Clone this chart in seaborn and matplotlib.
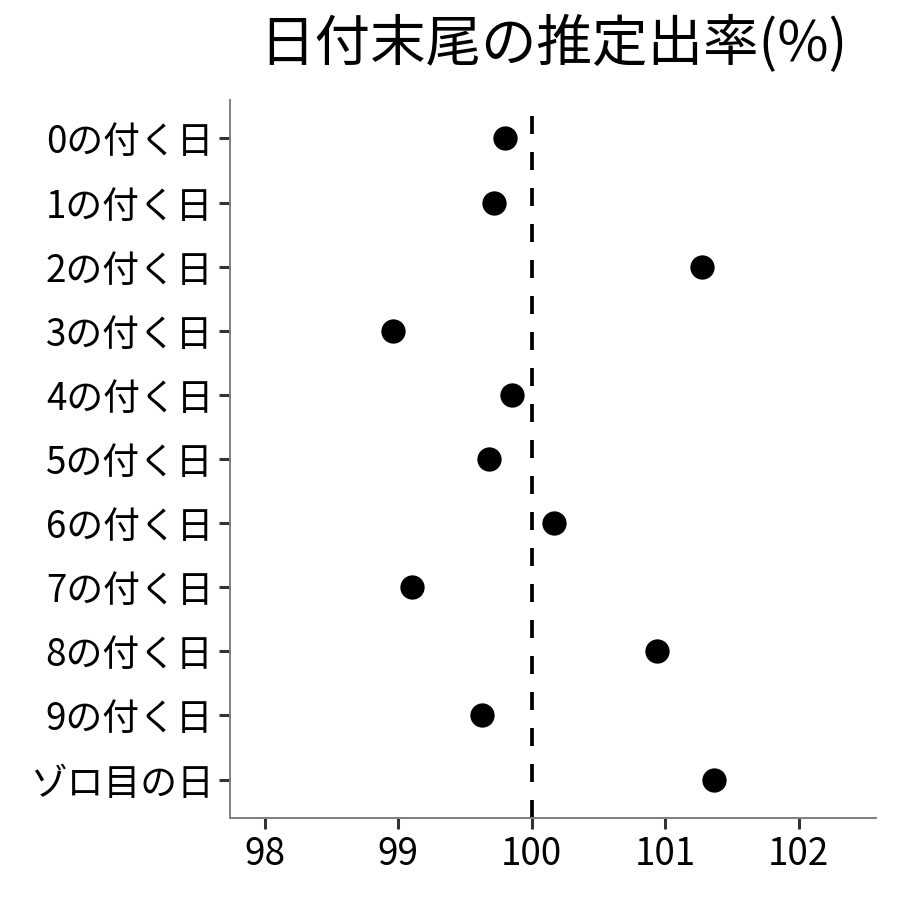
import matplotlib
matplotlib.use("Agg")
import matplotlib.pyplot as plt
import seaborn as sns
import pandas as pd

# データ
labels = ["0の付く日", "1の付く日", "2の付く日", "3の付く日", "4の付く日",
          "5の付く日", "6の付く日", "7の付く日", "8の付く日", "9の付く日", "ゾロ目の日"]
rates = [99.80, 99.72, 101.28, 98.96, 99.85, 99.68, 100.17, 99.10, 100.94, 99.63, 101.37]
xticks = [98, 99, 100, 101, 102]

df = pd.DataFrame({"label": labels, "rate": rates})

sns.set_theme(style="ticks")
plt.rcParams["font.family"] = ["Noto Sans CJK JP", "DejaVu Sans"]

fig = plt.figure(figsize=(9, 9), dpi=100)
ax = fig.add_axes([0.2556, 0.0911, 0.7177, 0.7978])

ax.axvline(100, color="black", lw=2.7, ls=(0, (4.8, 4.8)), zorder=1)
sns.stripplot(data=df, x="rate", y="label", order=labels, jitter=False,
              color="black", size=17.5, linewidth=0, ax=ax, zorder=3)

ax.set_xlim(97.74, 102.58)
ax.set_ylim(len(labels) - 0.4, -0.6)
ax.set_xticks(xticks)
ax.set_xticklabels([str(t) for t in xticks])
ax.set_xlabel("")
ax.set_ylabel("")

for s in ["top", "right"]:
    ax.spines[s].set_visible(False)
for s in ["left", "bottom"]:
    ax.spines[s].set_color("#7f7f7f")
    ax.spines[s].set_linewidth(1.4)

ax.tick_params(axis="both", length=8, width=2.2, color="#333333",
               labelsize=26.5, labelcolor="black", pad=4)

fig.text(0.6144, 0.95, "日付末尾の推定出率(%)", ha="center", va="center",
         fontsize=40, color="black")

fig.savefig("out.png", dpi=100)
